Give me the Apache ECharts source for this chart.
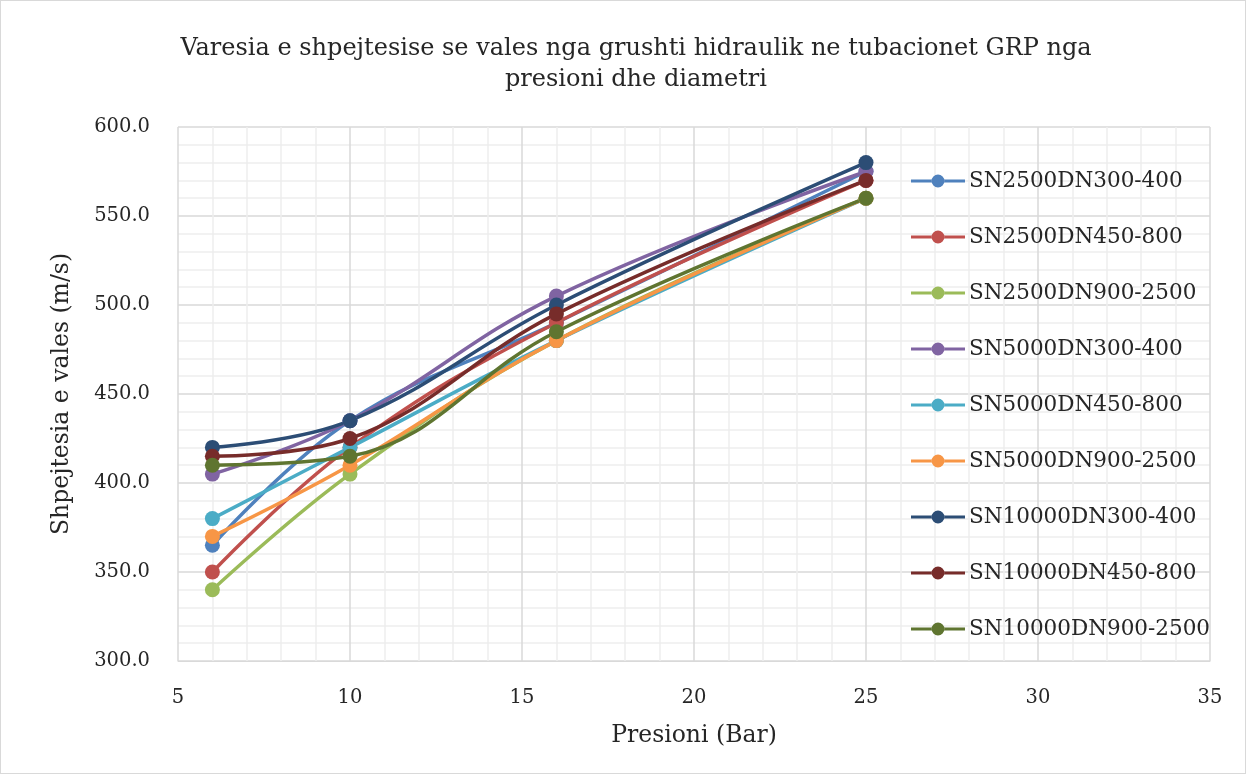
<!DOCTYPE html>
<html>
<head>
<meta charset="utf-8">
<script src="https://cdn.jsdelivr.net/npm/echarts@6/dist/echarts.min.js"></script>
<style>
  html, body { margin: 0; padding: 0; background: #fff; }
  #chart { width: 1244px; height: 772px; border: 1px solid #d9d9d9; }
</style>
</head>
<body>
<div id="chart"></div>
<script>
// Pressure steps (bar) shared by every pipe class
const pressures = [6, 10, 16, 25];

const seriesNames = [
  'SN2500DN300-400',
  'SN2500DN450-800',
  'SN2500DN900-2500',
  'SN5000DN300-400',
  'SN5000DN450-800',
  'SN5000DN900-2500',
  'SN10000DN300-400',
  'SN10000DN450-800',
  'SN10000DN900-2500'
];

// Wave speed (m/s) at each pressure step
const sn2500dn300 = [365, 435, 490, 575];
const sn2500dn450 = [350, 420, 490, 570];
const sn2500dn900 = [340, 405, 480, 560];
const sn5000dn300 = [405, 435, 505, 575];
const sn5000dn450 = [380, 420, 480, 560];
const sn5000dn900 = [370, 410, 480, 560];
const sn10000dn300 = [420, 435, 500, 580];
const sn10000dn450 = [415, 425, 495, 570];
const sn10000dn900 = [410, 415, 485, 560];

const seriesValues = [
  sn2500dn300, sn2500dn450, sn2500dn900,
  sn5000dn300, sn5000dn450, sn5000dn900,
  sn10000dn300, sn10000dn450, sn10000dn900
];

const colors = [
  '#4F81BD', '#C0504D', '#9BBB59',
  '#8064A2', '#4BACC6', '#F79646',
  '#2C4D75', '#772C2A', '#5F7530'
];

const FONT = '"DejaVu Serif", "Liberation Serif", serif';

// Legend marker: a thick line segment with a round dot in the middle
const LEGEND_ICON = 'path://M0,5H20.7V8H0Z M33.3,5H54V8H33.3Z M20.5,6.5a6.5,6.5 0 1,0 13,0a6.5,6.5 0 1,0 -13,0Z';

const chart = echarts.init(document.getElementById('chart'), null, { renderer: 'canvas' });

chart.setOption({
  animation: false,
  color: colors,
  textStyle: { fontFamily: FONT, color: '#262626' },
  title: {
    text: 'Varesia e shpejtesise se vales nga grushti hidraulik ne tubacionet GRP nga\npresioni dhe diametri',
    left: 630,
    textAlign: 'center',
    top: 27,
    textStyle: { fontFamily: FONT, fontSize: 24, fontWeight: 'normal', color: '#262626', lineHeight: 31 }
  },
  grid: { left: 177, right: 35, top: 126, bottom: 112, containLabel: false },
  legend: {
    orient: 'vertical',
    left: 905,
    top: 164,
    icon: LEGEND_ICON,
    itemWidth: 54,
    itemHeight: 13,
    itemGap: 34,
    textStyle: { fontFamily: FONT, fontSize: 21.5, color: '#262626', padding: [0, 0, 0, -1] },
    data: seriesNames
  },
  xAxis: {
    type: 'value',
    min: 5,
    max: 35,
    interval: 5,
    name: 'Presioni (Bar)',
    nameLocation: 'middle',
    nameGap: 63,
    nameTextStyle: { fontFamily: FONT, fontSize: 23.5, color: '#262626' },
    axisLine: { show: true, lineStyle: { color: '#d9d9d9', width: 1 } },
    axisTick: { show: false },
    axisLabel: { fontFamily: FONT, fontSize: 19.5, color: '#262626', margin: 27 },
    splitLine: { show: true, lineStyle: { color: '#d9d9d9', width: 1.5 } },
    minorTick: { show: false, splitNumber: 5 },
    minorSplitLine: { show: true, lineStyle: { color: '#eeeeee', width: 1.5 } }
  },
  yAxis: {
    type: 'value',
    min: 300,
    max: 600,
    interval: 50,
    name: 'Shpejtesia e vales (m/s)',
    nameLocation: 'middle',
    nameGap: 104,
    nameTextStyle: { fontFamily: FONT, fontSize: 23.5, color: '#262626' },
    axisLine: { show: false },
    axisTick: { show: false },
    axisLabel: {
      fontFamily: FONT, fontSize: 19.5, color: '#262626', margin: 28,
      formatter: v => v.toFixed(1)
    },
    splitLine: { show: true, lineStyle: { color: '#d9d9d9', width: 1.5 } },
    minorTick: { show: false, splitNumber: 5 },
    minorSplitLine: { show: true, lineStyle: { color: '#eeeeee', width: 1.5 } }
  },
  series: seriesNames.map((name, i) => ({
    name: name,
    type: 'line',
    smooth: 0.4,
    symbol: 'circle',
    symbolSize: 15,
    lineStyle: { width: 3.5 },
    itemStyle: { color: colors[i] },
    data: pressures.map((p, j) => [p, seriesValues[i][j]])
  }))
});
</script>
</body>
</html>
